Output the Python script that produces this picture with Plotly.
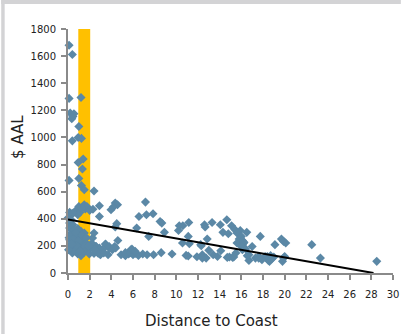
import plotly.graph_objects as go

# ---- data ----
dist_x = [
    0.1, 0.4, 0.1, 1.2, 0.2, 0.55, 0.35, 0.45, 1.0, 0.4, 0.94, 1.24, 0.94, 1.4, 1.33, 0.1, 1.0, 1.24, 1.5, 2.4,
    0.15, 0.3, 0.64, 0.8, 1.0, 1.1, 0.9, 1.5, 1.6, 1.75, 2.0, 2.9, 2.9, 0.45, 1.3, 2.3,
    4.36, 4.57, 4.18, 3.97,
    0.0, 0.3, 0.15, 0.45, 0.15, 0.6, 0.9, 1.2, 1.5, 0.3, 0.75, 1.06, 1.36, 2.27, 2.4,
    0.15, 0.45, 0.75, 1.06, 1.36, 1.66, 0.3, 0.6, 0.9, 1.2, 1.5, 1.8, 2.1, 2.57, 2.9, 3.2, 3.5, 3.8,
    0.45, 0.9, 1.2, 1.5, 1.97, 2.4, 2.9,
    3.45, 3.8, 4.3, 4.1, 4.4, 2.6, 2.9, 3.2, 2.75, 3.0, 2.45, 4.9, 5.3, 5.6, 5.8, 3.7, 3.3, 0.4, 0.55, 0.2, 0.05,
    4.5, 4.36, 4.6,
    0.1, 0.2, 0.5, 0.7, 1.0, 1.3, 0.8, 1.1, 1.7, 2.2, 0.35, 1.9,
    7.15, 6.55, 7.24, 7.85, 8.5, 8.66, 6.34, 7.45, 8.9, 10.27, 10.6, 11.15, 10.2, 11.1, 12.6, 12.66, 10.57, 11.2, 12.25,
    5.3, 5.6, 5.8, 6.0, 6.2, 6.5, 6.9, 7.3, 7.9, 8.6, 9.6, 10.9, 11.1, 11.9, 12.4, 5.9, 6.2, 12.75,
    13.3, 14.06, 14.66, 15.1, 14.3, 14.8, 15.4, 15.9, 16.5, 15.6, 15.8, 16.0, 15.9, 15.6, 16.2, 17.75, 12.85, 12.3, 13.0, 12.4,
    13.4, 13.8, 14.1, 14.7, 15.2, 15.5, 16.1, 16.7, 16.7, 17.3, 17.6, 17.9, 18.2, 18.5, 19.1,
    16.1, 16.25, 16.1, 16.0, 16.4, 17.0, 14.9, 15.3, 16.55,
    19.7, 19.9, 20.1, 22.5, 23.3, 28.5, 17.6, 18.4, 18.7, 19.0, 18.6, 18.8, 19.9, 20.0, 19.8,
]
aal_y = [
    1680, 1612, 1288, 1295, 1180, 1175, 1138, 1155, 1081, 975, 1000, 993, 815, 841, 767, 683, 697, 646, 614, 605,
    447, 437, 450, 467, 491, 447, 430, 504, 472, 491, 462, 496, 417, 440, 480, 470,
    516, 504, 487, 467,
    406, 393, 369, 356, 332, 319, 327, 307, 295, 295, 282, 270, 258, 258, 295,
    246, 233, 221, 209, 233, 221, 196, 184, 172, 184, 196, 172, 184, 196, 184, 159, 209, 184,
    153, 140, 128, 153, 140, 145, 140,
    214, 196, 196, 172, 184, 196, 172, 172, 147, 135, 172, 135, 128, 147, 172, 135, 147, 147, 172, 196, 172,
    364, 339, 240,
    260, 280, 250, 300, 240, 280, 200, 160, 260, 220, 215, 200,
    523, 417, 430, 437, 380, 368, 332, 270, 300, 349, 349, 373, 314, 270, 356, 339, 221, 216, 209,
    150, 140, 150, 135, 145, 130, 140, 135, 135, 150, 140, 130, 125, 120, 135, 177, 160, 110,
    373, 356, 393, 349, 300, 290, 320, 314, 300, 295, 251, 270, 233, 221, 221, 270, 251, 201, 167, 110,
    135, 122, 164, 115, 115, 147, 172, 135, 93, 110, 122, 98, 122, 93, 209,
    240, 226, 209, 196, 177, 196, 118, 118, 128,
    251, 233, 221, 209, 110, 86, 110, 122, 128, 118, 86, 103, 110, 122, 86,
]
trend_x = [0, 28.2]
trend_y = [395, 0]
band_x = [0.95, 2.05]
x_ticks = list(range(0, 31, 2))
y_ticks = list(range(0, 1801, 200))

W, H = 407, 334
L, R, T, B = 68, 8, 29, 61
pw, ph = W - L - R, H - T - B

fig = go.Figure()
fig.add_trace(go.Scatter(
    x=dist_x, y=aal_y, mode="markers",
    marker=dict(symbol="diamond", size=7, color="#5b88a6", line=dict(width=0)),
    cliponaxis=False, showlegend=False, hoverinfo="skip"))
fig.add_trace(go.Scatter(
    x=trend_x, y=trend_y, mode="lines",
    line=dict(color="black", width=2), cliponaxis=False, showlegend=False, hoverinfo="skip"))

shapes = [
    dict(type="rect", xref="x", yref="y", x0=band_x[0], x1=band_x[1], y0=0, y1=1800,
         fillcolor="#ffc000", line=dict(width=0), layer="below"),
    dict(type="rect", xref="paper", yref="paper", x0=-L / pw, x1=(-L + 3.5) / pw,
         y0=-B / ph, y1=1 + T / ph, fillcolor="#d3d3d5", line=dict(width=0), layer="above"),
    dict(type="rect", xref="paper", yref="paper", x0=-L / pw, x1=1 + R / pw,
         y0=1 + (T - 4) / ph, y1=1 + T / ph, fillcolor="#d3d3d5", line=dict(width=0), layer="above"),
]

axis_font = dict(family="DejaVu Sans", size=10, color="#222222")
fig.update_layout(
    width=W, height=H,
    margin=dict(l=L, r=R, t=T, b=B, pad=0),
    paper_bgcolor="white", plot_bgcolor="white",
    shapes=shapes,
    hovermode=False,
    xaxis=dict(range=[0, 30], tickvals=x_ticks, ticktext=[str(v) for v in x_ticks],
               showgrid=False, zeroline=False, showline=True, linecolor="#8a8a8a", linewidth=2,
               ticks="outside", ticklen=5, tickwidth=1.5, tickcolor="#8a8a8a",
               tickfont=axis_font, ticklabelstandoff=6),
    yaxis=dict(range=[0, 1800], tickvals=y_ticks, ticktext=[str(v) for v in y_ticks],
               showgrid=False, zeroline=False, showline=True, linecolor="#8a8a8a", linewidth=2,
               ticks="outside", ticklen=5, tickwidth=1.5, tickcolor="#8a8a8a",
               tickfont=axis_font, ticklabelstandoff=3),
    annotations=[
        dict(text="Distance to Coast", xref="paper", yref="paper",
             x=(214.5 - L) / pw, y=(T + ph - 321) / ph, xanchor="center", yanchor="middle",
             showarrow=False, font=dict(family="DejaVu Sans", size=15, color="#222222")),
        dict(text="$ AAL", xref="paper", yref="paper", textangle=-90,
             x=(17 - L) / pw, y=(T + ph - 137) / ph, xanchor="center", yanchor="middle",
             showarrow=False, font=dict(family="DejaVu Sans", size=15, color="#222222")),
    ],
)
fig.write_html("out.html", config={"displayModeBar": False},
               post_script="document.body.style.margin='0';document.body.style.overflow='hidden';")
